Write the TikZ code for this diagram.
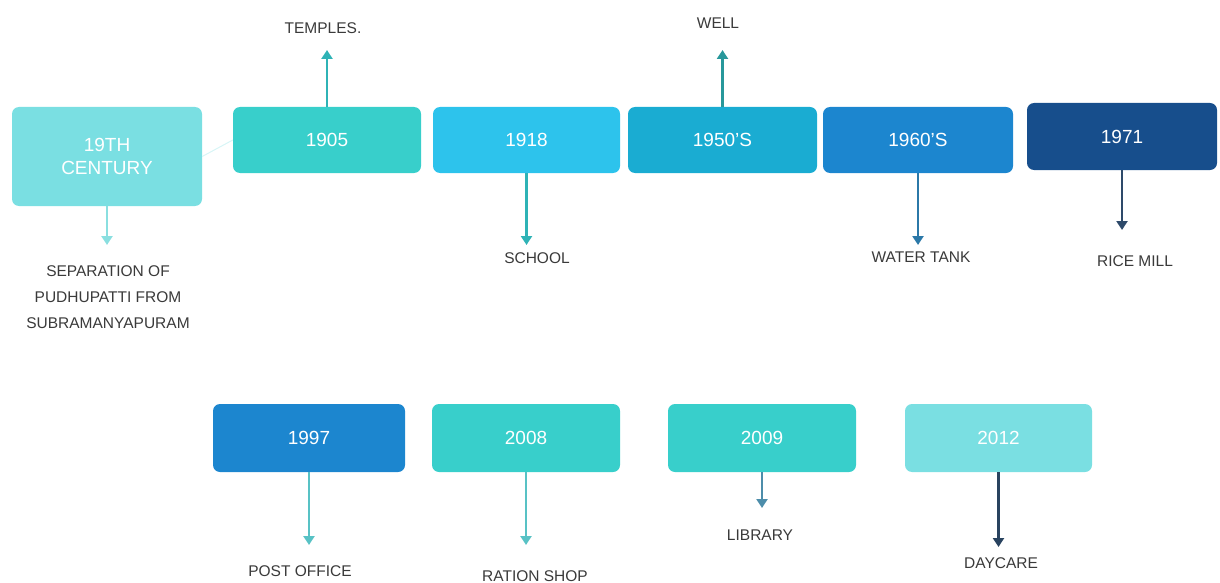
\documentclass[tikz,border=0pt]{standalone}
\usepackage{fontspec}
\setmainfont{Liberation Sans}
\usetikzlibrary{arrows.meta}
\definecolor{cLight}{HTML}{7ADFE2}
\definecolor{cTeal}{HTML}{38CFCB}
\definecolor{cSky}{HTML}{2DC3EC}
\definecolor{cCyan}{HTML}{1AACD2}
\definecolor{cBlue}{HTML}{1C86CF}
\definecolor{cNavy}{HTML}{174E8C}
\definecolor{aLight}{HTML}{8ADFE0}
\definecolor{aTeal}{HTML}{2FB3B6}
\definecolor{aSteel}{HTML}{2B78A8}
\definecolor{aDark}{HTML}{2E4A6A}
\definecolor{aMid}{HTML}{4D8DAA}
\definecolor{txt}{HTML}{3A3A3A}
\tikzset{
  yearbox/.style={rounded corners=7pt, minimum width=188pt, minimum height=66pt,
    inner sep=0pt, text=white, font=\fontsize{19}{23}\selectfont, align=center},
  lab/.style={text=txt, font=\fontsize{15.5}{26}\selectfont, align=center, inner sep=0pt},
  arr/.style={line width=2.6pt, -{Triangle[width=11pt,length=9pt]}},
}
\begin{document}
\begin{tikzpicture}[x=1pt,y=-1pt]
\useasboundingbox (0,0) rectangle (1220,583);
% top row boxes
\node[yearbox, fill=cLight, minimum width=190pt, minimum height=99pt] (b19) at (107,156.5) {19TH\\CENTURY};
\node[yearbox, fill=cTeal] (b1905) at (327,140) {1905};
\node[yearbox, fill=cSky, minimum width=187pt] (b1918) at (526.5,140) {1918};
\node[yearbox, fill=cCyan, minimum width=189pt] (b1950) at (722.5,140) {1950'S};
\node[yearbox, fill=cBlue, minimum width=190pt] (b1960) at (918,140) {1960'S};
\node[yearbox, fill=cNavy, minimum width=190pt, minimum height=67pt] (b1971) at (1122,136.5) {1971};
% bottom row boxes
\node[yearbox, fill=cBlue, minimum width=192pt, minimum height=68pt] (b1997) at (309,438) {1997};
\node[yearbox, fill=cTeal, minimum height=68pt] (b2008) at (526,438) {2008};
\node[yearbox, fill=cTeal, minimum height=68pt] (b2009) at (762,438) {2009};
\node[yearbox, fill=cLight, minimum width=187pt, minimum height=68pt] (b2012) at (998.5,438) {2012};
% faint link
\draw[color=cLight!30, line width=1pt] (b19.east) -- (b1905.west);
% labels
\node[lab] (lsep) at (108,297) {SEPARATION OF\\PUDHUPATTI FROM\\SUBRAMANYAPURAM};
\node[lab] (ltemp) at (323,28) {TEMPLES.};
\node[lab] (lschool) at (537,258) {SCHOOL};
\node[lab] (lwell) at (718,23) {WELL};
\node[lab] (ltank) at (921,257) {WATER TANK};
\node[lab] (lrice) at (1135,261) {RICE MILL};
\node[lab] (lpost) at (300,571) {POST OFFICE};
\node[lab] (lration) at (535,576) {RATION SHOP};
\node[lab] (llib) at (760,535) {LIBRARY};
\node[lab] (lday) at (1001,563) {DAYCARE};
% arrow ends
\coordinate (e19) at (107,245);
\coordinate (e1905) at (327,50);
\coordinate (e1918) at (526.5,245);
\coordinate (e1950) at (722.5,50);
\coordinate (e1960) at (918,245);
\coordinate (e1971) at (1122,230);
\coordinate (e1997) at (309,545);
\coordinate (e2008) at (526,545);
\coordinate (e2009) at (762,508);
\coordinate (e2012) at (998.5,547);
% arrows
\draw[arr, aLight] (b19.south) -- (e19);
\draw[arr, aTeal] (b1905.north) -- (e1905);
\draw[arr, aTeal] (b1918.south) -- (e1918);
\draw[arr, aTeal!85!black] (b1950.north) -- (e1950);
\draw[arr, aSteel] (b1960.south) -- (e1960);
\draw[arr, aDark] (b1971.south) -- (e1971);
\draw[arr, aTeal!80!white] (b1997.south) -- (e1997);
\draw[arr, aTeal!80!white] (b2008.south) -- (e2008);
\draw[arr, aMid] (b2009.south) -- (e2009);
\draw[arr, aDark!90!black] (b2012.south) -- (e2012);
\end{tikzpicture}
\end{document}
